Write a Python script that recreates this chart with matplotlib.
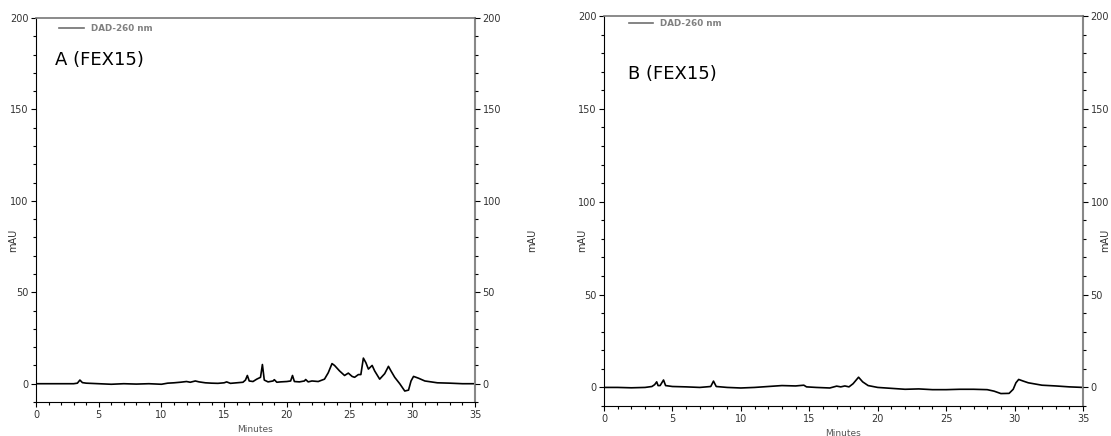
import matplotlib.pyplot as plt
from matplotlib.ticker import MultipleLocator

plt.rcParams.update({
    "font.family": "DejaVu Sans",
    "font.size": 7,
    "xtick.labelsize": 7,
    "ytick.labelsize": 7,
})

# --- ADATOK ---
# A (FEX15) kromatogram: idő [min], jel [mAU]
time_a = [0, 1, 2, 3, 3.3, 3.5, 3.7, 4, 5, 6, 7, 8, 9, 10, 10.5, 11, 11.5, 12, 12.3,
          12.7, 13, 13.5, 14, 14.5, 15, 15.2, 15.5, 16, 16.5, 16.7, 16.85, 17, 17.3,
          17.6, 17.9, 18.05, 18.2, 18.5, 18.9, 19, 19.2, 19.5, 20, 20.3, 20.45, 20.6,
          21, 21.4, 21.5, 21.7, 22, 22.5, 23, 23.3, 23.6, 23.8, 24.2, 24.6, 24.9,
          25.2, 25.4, 25.7, 25.9, 26.1, 26.3, 26.5, 26.8, 27, 27.4, 27.8, 28.1, 28.3,
          28.6, 29, 29.4, 29.7, 29.9, 30.1, 30.5, 31, 32, 33, 34, 35]
signal_a = [0, 0, 0, 0, 0.3, 2, 0.6, 0.3, 0, -0.3, 0, -0.2, 0, -0.3, 0.3, 0.5, 0.8, 1.2, 0.8,
            1.5, 1, 0.5, 0.3, 0.2, 0.5, 1, 0.2, 0.5, 0.8, 2, 4.5, 1.5, 1.2,
            2.5, 3.5, 10.5, 2, 1, 1.5, 2.2, 0.8, 1, 1.2, 1.5, 4.5, 1.2,
            1, 1.5, 2.3, 1, 1.5, 1.2, 2.5, 6, 11, 10, 7, 4.5, 5.8,
            4, 3.5, 5, 5, 14, 11.5, 8, 10, 7, 2.5, 5.5, 9.5, 7,
            3.5, 0, -4, -3.5, 1.5, 4, 3, 1.5, 0.5, 0.3, 0, 0]

# B (FEX15) kromatogram
time_b = [0, 1, 2, 3, 3.5, 3.7, 3.85, 3.95, 4.1, 4.35, 4.5, 5, 6, 7, 7.8, 8, 8.2, 9, 10,
          11, 12, 13, 14, 14.6, 14.8, 15.5, 16.5, 17, 17.3, 17.6, 17.9, 18.2, 18.6,
          18.9, 19.3, 20, 21, 22, 23, 24, 25, 26, 27, 28, 28.5, 29, 29.6, 29.9, 30.1,
          30.3, 30.6, 31, 32, 33, 34, 35]
signal_b = [0, 0, -0.2, 0, 0.5, 1.5, 3, 1, 1, 4, 1, 0.5, 0.3, 0, 0.5, 3.4, 0.5, 0, -0.3,
            0, 0.5, 1, 0.8, 1.2, 0.3, 0, -0.3, 0.7, 0.3, 0.8, 0.3, 2, 5.5,
            3, 1, 0, -0.5, -1, -0.8, -1.2, -1.2, -1, -1, -1.2, -2, -3.3, -3.2, -1, 2.5,
            4.3, 3.5, 2.5, 1.2, 0.8, 0.3, 0]

# adatok, cím, tengely helye, cím helye, mAU címkék helye (bal x, jobb x, y), jelmagyarázat y
panels = [
    (time_a, signal_a, "A (FEX15)", [36 / 1111, 1 - 402 / 436, 439 / 1111, 384 / 436],
     (1.5, 177), (-0.041, 1.118, 0.42), 1.005),
    (time_b, signal_b, "B (FEX15)", [604 / 1111, 1 - 406 / 436, 479 / 1111, 390 / 436],
     (1.75, 169), (-0.035, 1.035, 0.425), 1.012),
]

fig = plt.figure(figsize=(11.11, 4.36), dpi=100)

for t, s, title, rect, txt_pos, lab, leg_y in panels:
    ax = fig.add_axes(rect)
    ax.plot(t, s, color="black", linewidth=1.2, label="DAD-260 nm")
    ax.set_xlim(0, 35)
    ax.set_ylim(-10, 200)
    ax.xaxis.set_major_locator(MultipleLocator(5))
    ax.xaxis.set_minor_locator(MultipleLocator(1))
    ax.yaxis.set_major_locator(MultipleLocator(50))
    ax.yaxis.set_minor_locator(MultipleLocator(10))
    ax.tick_params(which="major", length=3.5, width=0.8, pad=2, labelcolor="#333333")
    ax.tick_params(which="minor", length=2.5, width=0.8)
    ax.set_xlabel("Minutes", fontsize=6.5, color="#555555", labelpad=4)
    ax.set_ylabel("mAU", fontsize=7, color="#333333")
    ax.yaxis.set_label_coords(lab[0], lab[2])
    ax.spines["top"].set_color("#777777")
    ax.spines["right"].set_color("#888888")
    ax.spines["top"].set_linewidth(1.2)
    ax.spines["right"].set_linewidth(1.5)
    ax.text(txt_pos[0], txt_pos[1], title, fontsize=13, color="black", va="center")
    leg = ax.legend(loc="upper left", bbox_to_anchor=(0.035, leg_y), frameon=False,
                    prop={"size": 6.3, "weight": "bold"}, handlelength=2.8,
                    labelcolor="#808080")
    for h in leg.get_lines():
        h.set_color("#707070")
        h.set_linewidth(1.2)

    ax2 = ax.twinx()
    ax2.set_ylim(-10, 200)
    ax2.yaxis.set_major_locator(MultipleLocator(50))
    ax2.yaxis.set_minor_locator(MultipleLocator(10))
    ax2.tick_params(which="major", length=3.5, width=0.8, pad=2, labelcolor="#333333")
    ax2.tick_params(which="minor", length=2.5, width=0.8)
    ax2.set_ylabel("mAU", fontsize=7, color="#333333")
    ax2.yaxis.set_label_coords(lab[1], lab[2])
    for sp in ax2.spines.values():
        sp.set_visible(False)

fig.savefig("out.png", dpi=100)
